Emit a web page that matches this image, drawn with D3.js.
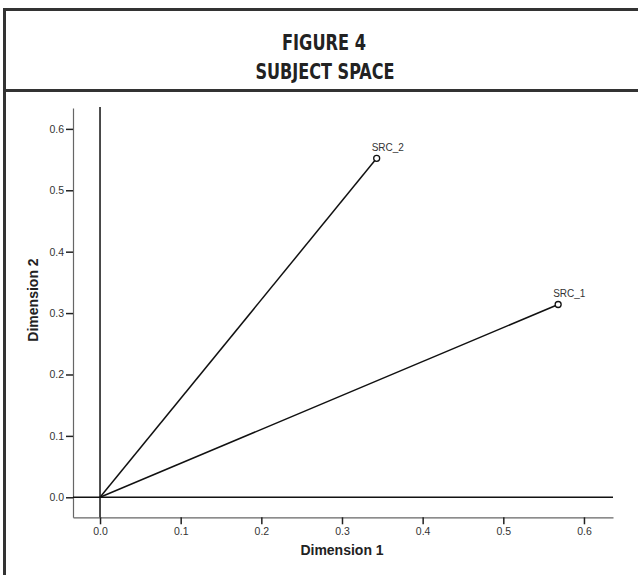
<!DOCTYPE html>
<html>
<head>
<meta charset="utf-8">
<script src="https://cdn.jsdelivr.net/npm/d3@7"></script>
<style>
  body { margin: 0; background: #fff; }
  svg { display: block; }
</style>
</head>
<body>
<script>
// subject weights
var subjects = ["SRC_1", "SRC_2"]
var dim1 = [0.568, 0.343]
var dim2 = [0.314, 0.552]

var xTicks = [0.0, 0.1, 0.2, 0.3, 0.4, 0.5, 0.6]
var yTicks = [0.0, 0.1, 0.2, 0.3, 0.4, 0.5, 0.6]

var width = 638, height = 575

var svg = d3.select("body").append("svg")
    .attr("width", width)
    .attr("height", height)

// outer frame + title band
svg.append("rect")
    .attr("x", 4.5).attr("y", 9.5)
    .attr("width", 700).attr("height", 700)
    .attr("fill", "none")
    .attr("stroke", "#333")
    .attr("stroke-width", 3)

svg.append("line")
    .attr("x1", 4).attr("x2", width)
    .attr("y1", 90.5).attr("y2", 90.5)
    .attr("stroke", "#333")
    .attr("stroke-width", 3)

var title = svg.append("g")
    .attr("font-family", "'DejaVu Sans Condensed', 'DejaVu Sans', sans-serif")
    .style("font-stretch", "condensed")
    .attr("font-weight", "bold")
    .attr("font-size", 22)
    .attr("fill", "#222")
    .attr("text-anchor", "middle")

// squeeze to the narrow look of the original title face
title.append("text").attr("x", 324).attr("y", 50)
    .attr("textLength", 84).attr("lengthAdjust", "spacingAndGlyphs")
    .text("FIGURE 4")
title.append("text").attr("x", 325).attr("y", 79)
    .attr("textLength", 139).attr("lengthAdjust", "spacingAndGlyphs")
    .text("SUBJECT SPACE")

// scales
var x = d3.scaleLinear().domain([-0.0335, 0.636]).range([73, 613])
var y = d3.scaleLinear().domain([-0.0326, 0.634]).range([517.3, 108])

var fmt = d3.format(".1f")

svg.append("g")
    .attr("transform", "translate(0," + y.range()[0] + ")")
    .call(d3.axisBottom(x).tickValues(xTicks).tickFormat(fmt).tickSize(7).tickSizeOuter(0).tickPadding(3))

svg.append("g")
    .attr("transform", "translate(" + x.range()[0] + ",0)")
    .call(d3.axisLeft(y).tickValues(yTicks).tickFormat(fmt).tickSize(7).tickSizeOuter(0).tickPadding(2))

svg.selectAll(".domain").attr("stroke", "#666").attr("stroke-width", 1.2)
svg.selectAll(".tick line").attr("stroke", "#222").attr("stroke-width", 1.5)
svg.selectAll(".tick text")
    .attr("font-family", "'Liberation Sans', Arial, sans-serif")
    .attr("font-size", 10.5)
    .attr("fill", "#333")

// zero reference lines
svg.append("line")
    .attr("x1", x.range()[0]).attr("x2", x.range()[1])
    .attr("y1", y(0)).attr("y2", y(0))
    .attr("stroke", "#111").attr("stroke-width", 1.5)

svg.append("line")
    .attr("x1", x(0)).attr("x2", x(0))
    .attr("y1", y.range()[1] - 1).attr("y2", y.range()[0])
    .attr("stroke", "#111").attr("stroke-width", 1.5)

// vectors and points
var pts = subjects.map(function(s, i){ return {name: s, d1: dim1[i], d2: dim2[i]} })

svg.append("g").selectAll("line")
    .data(pts)
    .enter()
    .append("line")
    .attr("x1", x(0)).attr("y1", y(0))
    .attr("x2", (d) => {return x(d.d1)})
    .attr("y2", (d) => {return y(d.d2)})
    .attr("stroke", "#111")
    .attr("stroke-width", 1.5)

svg.append("g").selectAll("circle")
    .data(pts)
    .enter()
    .append("circle")
    .attr("cx", (d) => {return x(d.d1)})
    .attr("cy", (d) => {return y(d.d2)})
    .attr("r", 3)
    .attr("fill", "#fff")
    .attr("stroke", "#111")
    .attr("stroke-width", 1.3)

svg.append("g").selectAll("text")
    .data(pts)
    .enter()
    .append("text")
    .attr("x", (d) => {return x(d.d1) - 5})
    .attr("y", (d) => {return y(d.d2) - 7})
    .attr("font-family", "'Liberation Sans', Arial, sans-serif")
    .attr("font-size", 10)
    .attr("fill", "#333")
    .text((d) => {return d.name})

// axis titles
svg.append("text")
    .attr("x", 342).attr("y", 555)
    .attr("text-anchor", "middle")
    .attr("font-family", "'Liberation Sans', Arial, sans-serif")
    .attr("font-weight", "bold")
    .attr("font-size", 14)
    .attr("fill", "#222")
    .text("Dimension 1")

svg.append("text")
    .attr("transform", "translate(37.5,300) rotate(-90)")
    .attr("text-anchor", "middle")
    .attr("font-family", "'Liberation Sans', Arial, sans-serif")
    .attr("font-weight", "bold")
    .attr("font-size", 14)
    .attr("fill", "#222")
    .text("Dimension 2")
</script>
</body>
</html>
